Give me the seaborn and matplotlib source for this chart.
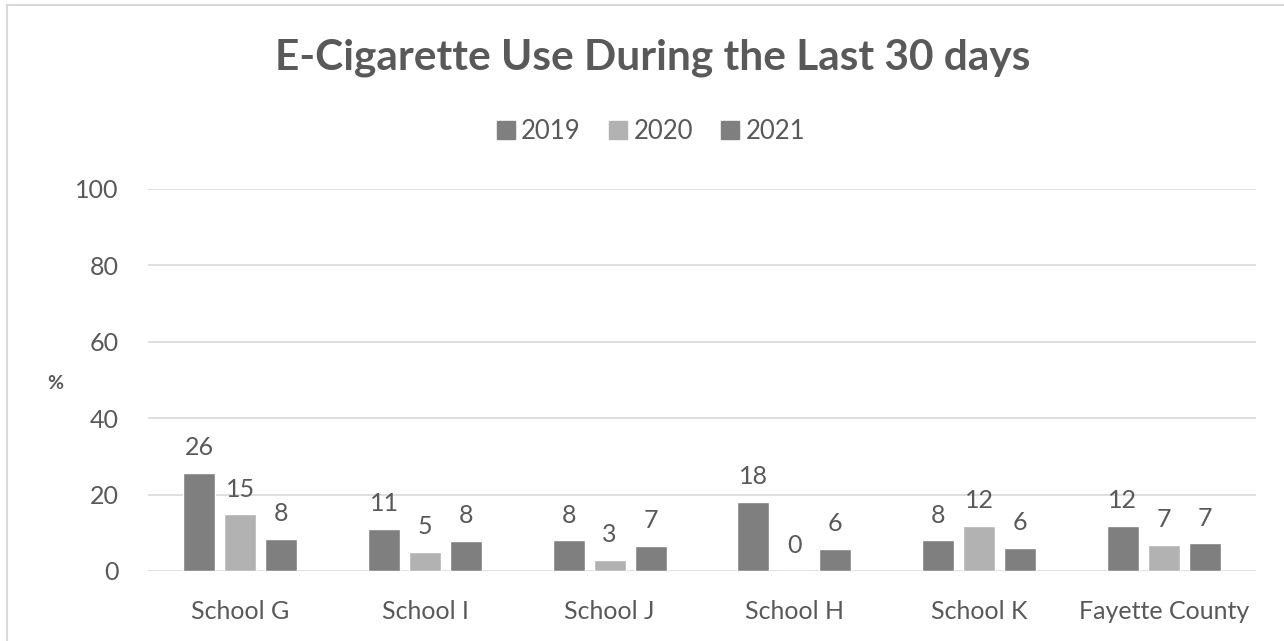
import matplotlib
matplotlib.use("Agg")
import matplotlib.pyplot as plt
import seaborn as sns
import pandas as pd
from matplotlib.patches import Rectangle

# datos
schools = ["School G", "School I", "School J", "School H", "School K", "Fayette County"]
years = ["2019", "2020", "2021"]
vals_2019 = [25.7, 10.9, 8.0, 18.0, 8.0, 11.9]
vals_2020 = [14.8, 4.9, 3.0, 0.0, 11.9, 6.8]
vals_2021 = [8.3, 7.9, 6.6, 5.7, 6.1, 7.2]
colors = ["#7F7F7F", "#B2B2B2", "#7F7F7F"]

df = pd.DataFrame({
    "school": schools * 3,
    "year": [y for y in years for _ in schools],
    "value": vals_2019 + vals_2020 + vals_2021,
})

sns.set_style("white")
plt.rcParams["font.family"] = ["Lato", "DejaVu Sans"]
txt = "#595959"

fig = plt.figure(figsize=(12.84, 6.41), dpi=100)
ax = fig.add_axes([148 / 1284, 1 - 571 / 641, 1108 / 1284, 382 / 641])

sns.barplot(data=df, x="school", y="value", hue="year", palette=colors,
            width=0.666, gap=0.22, ax=ax, legend=False, saturation=1)

for c in ax.containers:
    ax.bar_label(c, fmt="%.0f", padding=10, fontsize=18, color=txt)

ax.set_ylim(0, 100)
ax.set_yticks(range(0, 101, 20))
ax.grid(axis="y", color="#D9D9D9", linewidth=1.2)
ax.set_axisbelow(True)
for s in ax.spines.values():
    s.set_visible(False)
ax.tick_params(axis="both", length=0, labelsize=18, labelcolor=txt)
ax.tick_params(axis="x", pad=21)
ax.tick_params(axis="y", pad=21)
ax.set_xlabel("")
ax.set_ylabel("")
fig.text(55 / 1284, 1 - 383 / 641, "%", fontsize=14, fontweight="bold",
         color=txt, ha="center", va="center")

fig.suptitle("E-Cigarette Use During the Last 30 days", x=653 / 1284, y=1 - 58 / 641,
             va="center", fontsize=30.5, fontweight="bold", color=txt)

handles = [Rectangle((0, 0), 1, 1, color=c) for c in colors]
fig.legend(handles, years, loc="center", bbox_to_anchor=(651 / 1284, 1 - 131 / 641),
           ncol=3, frameon=False, fontsize=18.5, labelcolor=txt,
           handlelength=0.7, handleheight=0.7, handletextpad=0.25, columnspacing=1.1)

fig.patches.append(Rectangle((7 / 1284, -0.1), 1.2, 1 - 5 / 641 + 0.1, transform=fig.transFigure,
                             fill=False, edgecolor="#D9D9D9", linewidth=1.5))

fig.savefig("out.png", dpi=100)
